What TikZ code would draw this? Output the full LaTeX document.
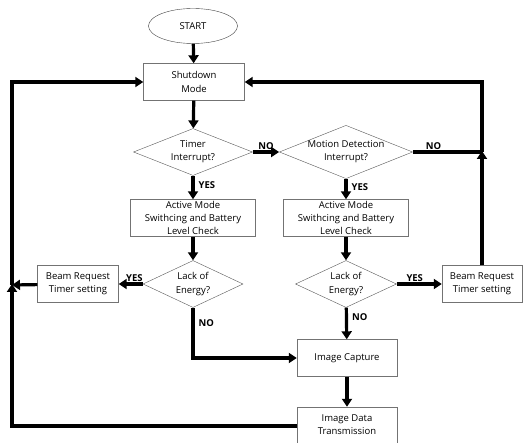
\documentclass[tikz,border=0pt]{standalone}
\usepackage{fontspec}
\setmainfont{Open Sans}
\usetikzlibrary{shapes.geometric,arrows.meta}
\tikzset{
  procbox/.style = {rectangle, draw=black!55, fill=white, inner sep=1pt, align=center, font=\fontsize{9.5}{13.3}\selectfont},
  decision/.style = {diamond, draw=black!65, fill=white, inner sep=0pt, aspect=2.5, align=center, font=\fontsize{9.5}{13.3}\selectfont},
  terminal/.style = {ellipse, draw=black!75, fill=white, inner sep=0pt, font=\fontsize{9.5}{11}\selectfont},
  flow/.style = {-{Triangle[length=8pt,width=10pt]}, line width=3.2pt},
  flowline/.style = {line width=3.2pt},
  answer/.style = {font=\fontsize{9.5}{12}\bfseries\selectfont, inner sep=1pt},
}
\begin{document}
\begin{tikzpicture}[x=1pt, y=-1pt]
\useasboundingbox (0,0) rectangle (523,443);

% main column
\node[terminal, minimum width=89pt, minimum height=35pt] (start) at (193,26) {START};
\node[procbox, minimum width=101pt, minimum height=37pt] (shutdown) at (194,82) {Shutdown\\Mode};
\node[decision, minimum width=119pt, minimum height=47pt] (timer) at (193,152) {Timer\\Interrupt?};
\node[procbox, minimum width=125pt, minimum height=37pt] (active1) at (193,218) {Active Mode\\Swithcing and Battery\\Level Check};
\node[decision, minimum width=100pt, minimum height=47pt] (lack1) at (193,284) {Lack of\\Energy?};
\node[procbox, minimum width=81pt, minimum height=37pt] (beam1) at (78,284) {Beam Request\\Timer setting};

% motion column
\node[decision, minimum width=131pt, minimum height=47pt] (motion) at (346,152) {Motion Detection\\Interrupt?};
\node[procbox, minimum width=125pt, minimum height=37pt] (active2) at (346,218) {Active Mode\\Swithcing and Battery\\Level Check};
\node[decision, minimum width=101pt, minimum height=47pt] (lack2) at (346,284) {Lack of\\Energy?};
\node[procbox, minimum width=80pt, minimum height=37pt] (beam2) at (482,284) {Beam Request\\Timer setting};
\node[procbox, minimum width=100pt, minimum height=37pt] (capture) at (347,358) {Image Capture};
\node[procbox, minimum width=100pt, minimum height=36pt] (transmit) at (347,425) {Image Data\\Transmission};

% rails
\coordinate (lefttop) at (12,82);
\coordinate (leftjoin) at (12,285);
\coordinate (leftbot) at (12,426);
\coordinate (righttop) at (482,82);
\coordinate (rightjoin) at (482,152);
\coordinate (nobend) at (193,358);

% connectors
\draw[flow] (start) -- (shutdown);
\draw[flow] (shutdown) -- (timer);
\draw[flow] (timer) -- node[answer, above] {NO} (motion);
\draw[flow] (timer) -- node[answer, right, pos=0.4, xshift=3pt] {YES} (active1);
\draw[flow] (motion) -- node[answer, right, pos=0.4, xshift=3pt] {YES} (active2);
\draw[flow] (active1) -- (lack1);
\draw[flow] (active2) -- (lack2);
\draw[flow] (lack1) -- node[answer, above, pos=0.35] {YES} (beam1);
\draw[flow] (lack2) -- node[answer, above, pos=0.4] {YES} (beam2);
\draw[flow] (lack1.south) -- node[answer, right, pos=0.3, xshift=3pt] {NO} (nobend) -- (capture);
\draw[flow] (lack2) -- node[answer, right, pos=0.3, xshift=3pt] {NO} (capture);
\draw[flow] (capture) -- (transmit);
\draw[flow] (beam1) -- (leftjoin);
\draw[flow] (transmit.west |- leftbot) -- (leftbot) -- ([yshift=1pt]leftjoin);
\draw[flow] (leftjoin) -- (lefttop) -- (shutdown.west);
\draw[flowline] (motion.east) -- node[answer, above, pos=0.3] {NO} (rightjoin);
\draw[flow] (beam2) -- ([yshift=1pt]rightjoin);
\draw[flow] (rightjoin) -- (righttop) -- (shutdown.east);
\end{tikzpicture}
\end{document}
